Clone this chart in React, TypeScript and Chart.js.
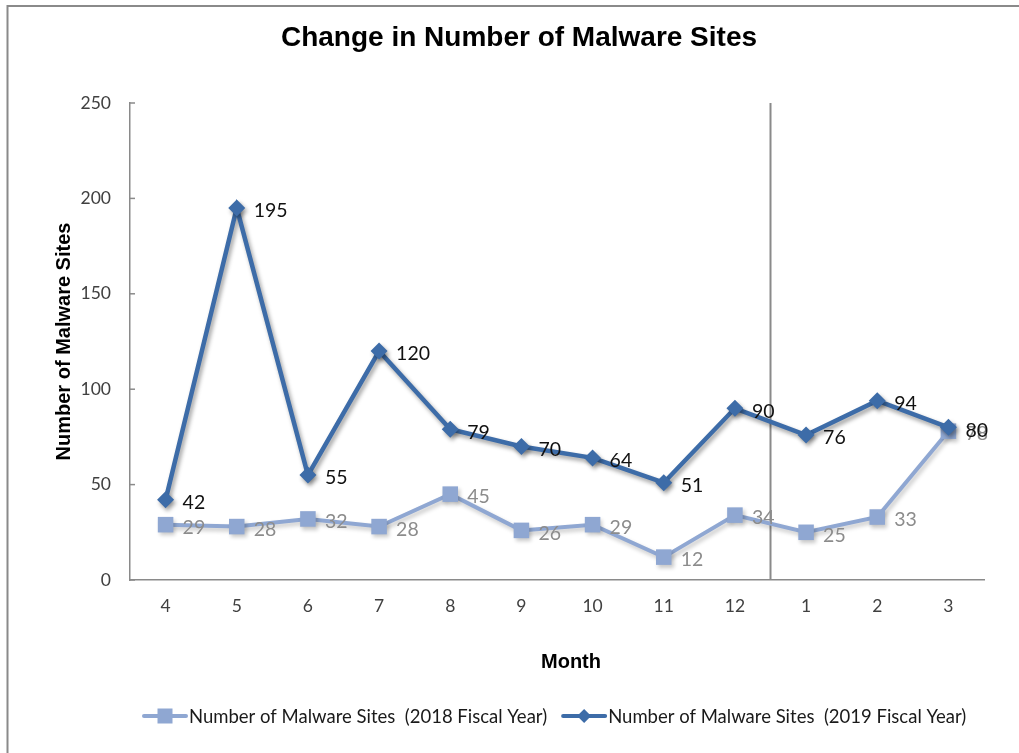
import { useEffect, useRef } from "react";
import { Chart, registerables } from "chart.js";

Chart.register(...registerables);

// Months of the fiscal year (April → March)
const months = ["4", "5", "6", "7", "8", "9", "10", "11", "12", "1", "2", "3"];
const sites2018 = [29, 28, 32, 28, 45, 26, 29, 12, 34, 25, 33, 78];
const sites2019 = [42, 195, 55, 120, 79, 70, 64, 51, 90, 76, 94, 80];
const label2018 = "Number of Malware Sites  (2018 Fiscal Year)";
const label2019 = "Number of Malware Sites  (2019 Fiscal Year)";
const chartTitle = "Change in Number of Malware Sites";
const yTitle = "Number of Malware Sites";
const xTitle = "Month";
// calendar-year boundary sits between month 12 and month 1
const yearBoundary = 8.5;

const COLOR_2018 = "#8FA7D2";
const COLOR_2019 = "#3D6CA8";
const AXIS_GRAY = "#8A8A8A";
const LABEL_FONT = "Lato, 'Open Sans', sans-serif";
const HEAD_FONT = "'Liberation Sans', Arial, sans-serif";

const decorations = {
  id: "decorations",
  beforeDatasetsDraw(chart: any) {
    const { ctx, scales, chartArea } = chart;
    ctx.save();
    // divider between the two calendar years
    const xb = scales.x.getPixelForValue(yearBoundary);
    ctx.strokeStyle = AXIS_GRAY;
    ctx.lineWidth = 2;
    ctx.beginPath();
    ctx.moveTo(xb, chartArea.top);
    ctx.lineTo(xb, chartArea.bottom);
    ctx.stroke();
    // inward tick marks on the value axis
    ctx.lineWidth = 1.5;
    scales.y.ticks.forEach((t: any) => {
      const y = scales.y.getPixelForValue(t.value);
      ctx.beginPath();
      ctx.moveTo(chartArea.left, y);
      ctx.lineTo(chartArea.left + 5, y);
      ctx.stroke();
    });
    ctx.restore();
  },
  beforeDatasetDraw(chart: any, args: any) {
    const ctx = chart.ctx;
    ctx.save();
    ctx.shadowColor = args.index === 1 ? "rgba(0,0,0,0.38)" : "rgba(0,0,0,0.22)";
    ctx.shadowBlur = 4;
    ctx.shadowOffsetX = 2;
    ctx.shadowOffsetY = 3;
  },
  afterDatasetDraw(chart: any) {
    chart.ctx.restore();
  },
  afterDatasetsDraw(chart: any) {
    const { ctx } = chart;
    ctx.save();
    ctx.font = `19.5px ${LABEL_FONT}`;
    ctx.textAlign = "left";
    ctx.textBaseline = "middle";
    const drawLabels = (dsIndex: number, values: number[], color: string) => {
      const meta = chart.getDatasetMeta(dsIndex);
      ctx.fillStyle = color;
      meta.data.forEach((pt: any, i: number) => {
        ctx.fillText(String(values[i]), pt.x + 17, pt.y + 3);
      });
    };
    drawLabels(0, sites2018, "#8C8C8C");
    drawLabels(1, sites2019, "#111111");
    ctx.restore();
  },
  afterDraw(chart: any) {
    const { ctx, chartArea } = chart;
    ctx.save();
    // outer frame
    ctx.strokeStyle = AXIS_GRAY;
    ctx.lineWidth = 2;
    ctx.beginPath();
    ctx.moveTo(7.5, 760);
    ctx.lineTo(7.5, 6);
    ctx.lineTo(1030, 6);
    ctx.stroke();

    // title
    ctx.fillStyle = "#000";
    ctx.textAlign = "center";
    ctx.textBaseline = "middle";
    ctx.font = `bold 28px ${HEAD_FONT}`;
    ctx.fillText(chartTitle, 519, 38);

    // axis titles
    ctx.font = `bold 20px ${HEAD_FONT}`;
    ctx.fillText(xTitle, 571, 662);
    ctx.save();
    ctx.translate(64, (chartArea.top + chartArea.bottom) / 2);
    ctx.rotate(-Math.PI / 2);
    ctx.fillText(yTitle, 0, 0);
    ctx.restore();

    // legend
    ctx.font = `18.5px ${LABEL_FONT}`;
    ctx.textAlign = "left";
    const ly = 716;
    const drawItem = (x0: number, color: string, marker: "rect" | "diamond", text: string) => {
      ctx.strokeStyle = color;
      ctx.lineWidth = 4;
      ctx.lineCap = "round";
      ctx.beginPath();
      ctx.moveTo(x0, ly);
      ctx.lineTo(x0 + 42, ly);
      ctx.stroke();
      ctx.fillStyle = color;
      const cx = x0 + 21;
      if (marker === "rect") {
        ctx.fillRect(cx - 7.5, ly - 7.5, 15, 15);
      } else {
        ctx.beginPath();
        ctx.moveTo(cx - 7, ly);
        ctx.lineTo(cx, ly - 7);
        ctx.lineTo(cx + 7, ly);
        ctx.lineTo(cx, ly + 7);
        ctx.closePath();
        ctx.fill();
      }
      ctx.fillStyle = "#1A1A1A";
      ctx.fillText(text, x0 + 45, ly + 1);
      return x0 + 45 + ctx.measureText(text).width;
    };
    const end1 = drawItem(144, COLOR_2018, "rect", label2018);
    drawItem(end1 + 16, COLOR_2019, "diamond", label2019);
    ctx.restore();
  },
};

export default function App() {
  const canvasRef = useRef<HTMLCanvasElement>(null);

  useEffect(() => {
    if (!canvasRef.current) return;
    const chart = new Chart(canvasRef.current, {
      type: "line",
      data: {
        labels: months,
        datasets: [
          {
            label: label2018,
            data: sites2018,
            borderColor: COLOR_2018,
            backgroundColor: COLOR_2018,
            borderWidth: 4,
            pointStyle: "rect",
            pointRadius: 11,
            pointBorderWidth: 0,
            tension: 0,
            order: 1,
          },
          {
            label: label2019,
            data: sites2019,
            borderColor: COLOR_2019,
            backgroundColor: COLOR_2019,
            borderWidth: 4.5,
            pointStyle: "rectRot",
            pointRadius: 8.5,
            pointBorderWidth: 0,
            tension: 0,
            order: 0,
          },
        ],
      },
      options: {
        animation: false,
        responsive: false,
        maintainAspectRatio: false,
        layout: { padding: { left: 70, top: 103, right: 35, bottom: 113 } },
        plugins: {
          legend: { display: false },
          title: { display: false },
          tooltip: { enabled: false },
        },
        scales: {
          x: {
            offset: true,
            grid: { display: false, drawTicks: false },
            border: { display: true, color: AXIS_GRAY, width: 1.5 },
            ticks: { color: "#404040", font: { family: LABEL_FONT, size: 17.5 }, padding: 16, maxRotation: 0 },
            afterFit: (s: any) => {
              s.height = 60;
            },
          },
          y: {
            min: 0,
            max: 250,
            grid: { display: false, drawTicks: false },
            border: { display: true, color: AXIS_GRAY, width: 1.5 },
            ticks: { stepSize: 50, color: "#404040", font: { family: LABEL_FONT, size: 17.5 }, padding: 19 },
            afterFit: (s: any) => {
              s.width = 60;
            },
          },
        },
      },
      plugins: [decorations],
    });
    return () => chart.destroy();
  }, []);

  return (
    <div style={{ position: "fixed", left: 0, top: 0, width: 1019, height: 753, background: "#fff" }}>
      <canvas ref={canvasRef} width={1019} height={753} style={{ display: "block" }} />
    </div>
  );
}
